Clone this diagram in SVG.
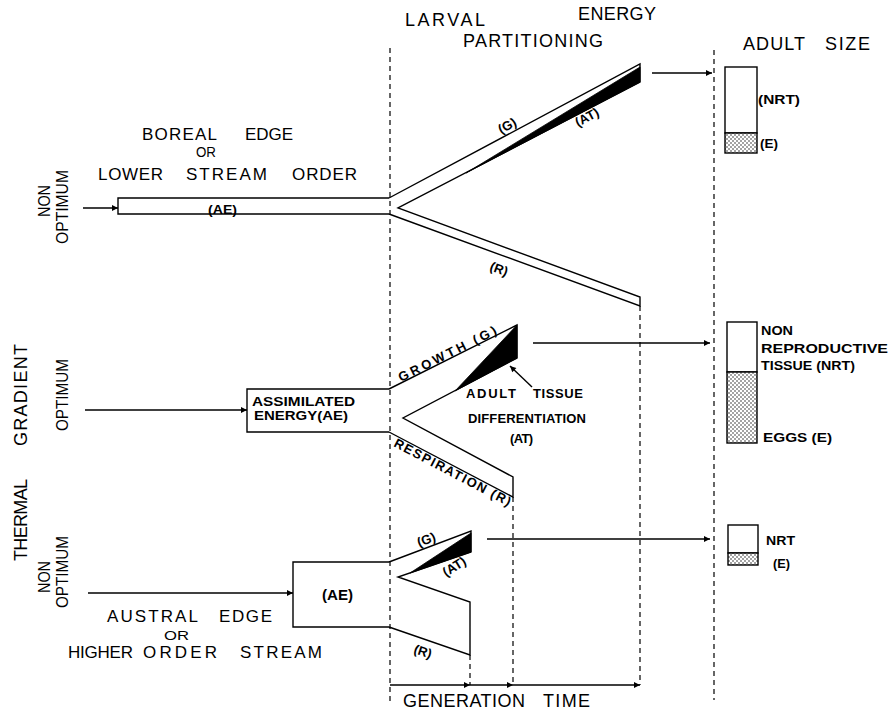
<svg xmlns="http://www.w3.org/2000/svg" width="889" height="711" viewBox="0 0 889 711">
<style>
.ln{fill:none;stroke:#000;stroke-width:1.4;stroke-linejoin:miter}
.ds{fill:none;stroke:#000;stroke-width:1.2;stroke-dasharray:5,4}
.blk{fill:#000;stroke:#000;stroke-width:0.8}
.t{font-family:"Liberation Sans",Arial,sans-serif;font-size:18px;fill:#000}
.s{font-family:"Liberation Sans",Arial,sans-serif;font-size:13px;font-weight:bold;fill:#000}
.bar{fill:#fff;stroke:#000;stroke-width:1.4}
.egg{fill:url(#dots);stroke:#000;stroke-width:1.4}
</style>
<defs>
<marker id="ah" viewBox="0 0 10 10" refX="10" refY="5" markerWidth="11" markerHeight="6" markerUnits="userSpaceOnUse" orient="auto"><path d="M0,0 L10,5 L0,10 z" fill="#000"/></marker>
<pattern id="dots" width="4" height="4" patternUnits="userSpaceOnUse"><rect width="4" height="4" fill="#fff"/><circle cx="1" cy="1" r="0.7" fill="#000"/><circle cx="3" cy="3" r="0.7" fill="#000"/></pattern>
</defs>
<rect width="889" height="711" fill="#fff"/>

<g id="headings">
<text class="t" x="405" y="26" textLength="80" lengthAdjust="spacing">LARVAL</text>
<text class="t" x="578" y="20" textLength="78" lengthAdjust="spacing">ENERGY</text>
<text class="t" x="463" y="47" textLength="140" lengthAdjust="spacing">PARTITIONING</text>
<text class="t" x="743" y="50" textLength="62" lengthAdjust="spacing">ADULT</text>
<text class="t" x="825" y="50" textLength="45" lengthAdjust="spacing">SIZE</text>
<text class="t" x="403" y="707" textLength="122" lengthAdjust="spacing">GENERATION</text>
<text class="t" x="543" y="707" textLength="47" lengthAdjust="spacing">TIME</text>
</g>

<g id="gradient-axis">
<text class="t" transform="translate(27,520) rotate(-90)" text-anchor="middle" textLength="82" lengthAdjust="spacing">THERMAL</text>
<text class="t" transform="translate(27,395) rotate(-90)" text-anchor="middle" textLength="102" lengthAdjust="spacing">GRADIENT</text>
<text class="t" style="font-size:17px" transform="translate(50,201) rotate(-90)" text-anchor="middle" textLength="32" lengthAdjust="spacingAndGlyphs">NON</text>
<text class="t" style="font-size:17px" transform="translate(68,207) rotate(-90)" text-anchor="middle" textLength="74" lengthAdjust="spacingAndGlyphs">OPTIMUM</text>
<text class="t" style="font-size:17px" transform="translate(68,395) rotate(-90)" text-anchor="middle" textLength="72" lengthAdjust="spacingAndGlyphs">OPTIMUM</text>
<text class="t" style="font-size:17px" transform="translate(50,577) rotate(-90)" text-anchor="middle" textLength="32" lengthAdjust="spacingAndGlyphs">NON</text>
<text class="t" style="font-size:17px" transform="translate(68,572) rotate(-90)" text-anchor="middle" textLength="72" lengthAdjust="spacingAndGlyphs">OPTIMUM</text>
</g>

<g id="guides">
<line class="ds" x1="390" y1="48" x2="390" y2="705"/>
<line class="ds" x1="714" y1="50" x2="714" y2="700"/>
<line class="ds" x1="470" y1="655" x2="470" y2="685"/>
<line class="ds" x1="513" y1="497" x2="513" y2="685"/>
<line class="ds" x1="640" y1="306" x2="640" y2="685"/>
</g>

<g id="top-flow">
<path class="ln" d="M389,198 H118 V214 H389"/>
<path class="ln" d="M389,198 L640,64 L640,82 L398,208 L640,297 L640,306 L389,214"/>
<polygon class="blk" points="466,173 640,67 640,82"/>
<text class="s" x="208" y="214" textLength="29" lengthAdjust="spacingAndGlyphs">(AE)</text>
<text class="s" transform="translate(501,134) rotate(-28)">(G)</text>
<text class="s" transform="translate(578,127) rotate(-28)">(AT)</text>
<text class="s" transform="translate(489,270) rotate(20)">(R)</text>
<text class="t" style="font-size:17px" x="142" y="140" textLength="75" lengthAdjust="spacing">BOREAL</text>
<text class="t" style="font-size:17px" x="245" y="140" textLength="48" lengthAdjust="spacing">EDGE</text>
<text class="t" style="font-size:15px" x="196" y="157" textLength="20" lengthAdjust="spacingAndGlyphs">OR</text>
<text class="t" style="font-size:17px" x="98" y="180" textLength="65" lengthAdjust="spacing">LOWER</text>
<text class="t" style="font-size:17px" x="186" y="180" textLength="81" lengthAdjust="spacing">STREAM</text>
<text class="t" style="font-size:17px" x="292" y="180" textLength="65" lengthAdjust="spacing">ORDER</text>
</g>

<g id="mid-flow">
<path class="ln" d="M389,389 H247 V432 H389"/>
<path class="ln" d="M389,389 L517,325 L517,358 L403,418 L513,477 L513,497 L389,432"/>
<polygon class="blk" points="455,391 517,325 517,358"/>
<text class="s" x="252" y="406" textLength="103" lengthAdjust="spacingAndGlyphs">ASSIMILATED</text>
<text class="s" x="254" y="420" textLength="94" lengthAdjust="spacingAndGlyphs">ENERGY(AE)</text>
<text class="s" transform="translate(401,382) rotate(-26.6)" textLength="108" lengthAdjust="spacing">GROWTH (G)</text>
<text class="s" transform="translate(393,446) rotate(27.7)" textLength="130" lengthAdjust="spacing">RESPIRATION (R)</text>
<text class="s" x="466" y="398" textLength="50" lengthAdjust="spacing">ADULT</text>
<text class="s" x="533" y="398" textLength="50" lengthAdjust="spacing">TISSUE</text>
<text class="s" x="468" y="423" textLength="118" lengthAdjust="spacing">DIFFERENTIATION</text>
<text class="s" x="510" y="443" textLength="23" lengthAdjust="spacing">(AT)</text>
</g>

<g id="bottom-flow">
<path class="ln" d="M389,562 H293 V627 H389"/>
<path class="ln" d="M389,562 L471,531 L471,552 L398,577 L470,602 L470,655 L389,627"/>
<polygon class="blk" points="410,573 471,533 471,552"/>
<text class="s" style="font-size:14px" x="322" y="600" textLength="31" lengthAdjust="spacingAndGlyphs">(AE)</text>
<text class="s" transform="translate(419,547) rotate(-20)">(G)</text>
<text class="s" transform="translate(446,577) rotate(-32)">(AT)</text>
<text class="s" transform="translate(413,653) rotate(18)">(R)</text>
<text class="t" style="font-size:17px" x="107" y="622" textLength="91" lengthAdjust="spacing">AUSTRAL</text>
<text class="t" style="font-size:17px" x="219" y="622" textLength="53" lengthAdjust="spacing">EDGE</text>
<text class="t" style="font-size:13px" x="164" y="640" textLength="25" lengthAdjust="spacingAndGlyphs">OR</text>
<text class="t" style="font-size:17px" x="68" y="658" textLength="65" lengthAdjust="spacing">HIGHER</text>
<text class="t" style="font-size:17px" x="143" y="658" textLength="74" lengthAdjust="spacing">ORDER</text>
<text class="t" style="font-size:17px" x="240" y="658" textLength="82" lengthAdjust="spacing">STREAM</text>
</g>

<g id="bar-top">
<rect class="bar" x="725" y="67" width="32" height="66"/>
<rect class="egg" x="725" y="133" width="32" height="20"/>
<text class="s" x="758" y="104" textLength="42" lengthAdjust="spacingAndGlyphs">(NRT)</text>
<text class="s" x="760" y="148" textLength="18" lengthAdjust="spacingAndGlyphs">(E)</text>
</g>

<g id="bar-mid">
<rect class="bar" x="727" y="322" width="30" height="50"/>
<rect class="egg" x="727" y="372" width="30" height="71"/>
<text class="s" x="761" y="335" textLength="32" lengthAdjust="spacingAndGlyphs">NON</text>
<text class="s" x="761" y="353" textLength="127" lengthAdjust="spacingAndGlyphs">REPRODUCTIVE</text>
<text class="s" x="761" y="370" textLength="94" lengthAdjust="spacingAndGlyphs">TISSUE (NRT)</text>
<text class="s" x="763" y="442" textLength="69" lengthAdjust="spacingAndGlyphs">EGGS (E)</text>
</g>

<g id="bar-bottom">
<rect class="bar" x="728" y="525" width="30" height="28"/>
<rect class="egg" x="728" y="553" width="30" height="12"/>
<text class="s" x="766" y="545" textLength="29" lengthAdjust="spacingAndGlyphs">NRT</text>
<text class="s" x="773" y="568" textLength="17" lengthAdjust="spacingAndGlyphs">(E)</text>
</g>

<g id="connectors">
<line class="ln" x1="83" y1="208" x2="118" y2="208" marker-end="url(#ah)"/>
<line class="ln" x1="85" y1="410" x2="247" y2="410" marker-end="url(#ah)"/>
<line class="ln" x1="88" y1="593" x2="293" y2="593" marker-end="url(#ah)"/>
<line class="ln" x1="652" y1="73" x2="712" y2="73" marker-end="url(#ah)"/>
<line class="ln" x1="533" y1="343" x2="710" y2="343" marker-end="url(#ah)"/>
<line class="ln" x1="487" y1="539" x2="710" y2="539" marker-end="url(#ah)"/>
<line class="ln" x1="532" y1="387" x2="510" y2="366" marker-end="url(#ah)"/>
<line class="ln" x1="390" y1="685" x2="470" y2="685" marker-end="url(#ah)"/>
<line class="ln" x1="470" y1="685" x2="513" y2="685" marker-end="url(#ah)"/>
<line class="ln" x1="513" y1="685" x2="640" y2="685" marker-end="url(#ah)"/>
</g>
</svg>
